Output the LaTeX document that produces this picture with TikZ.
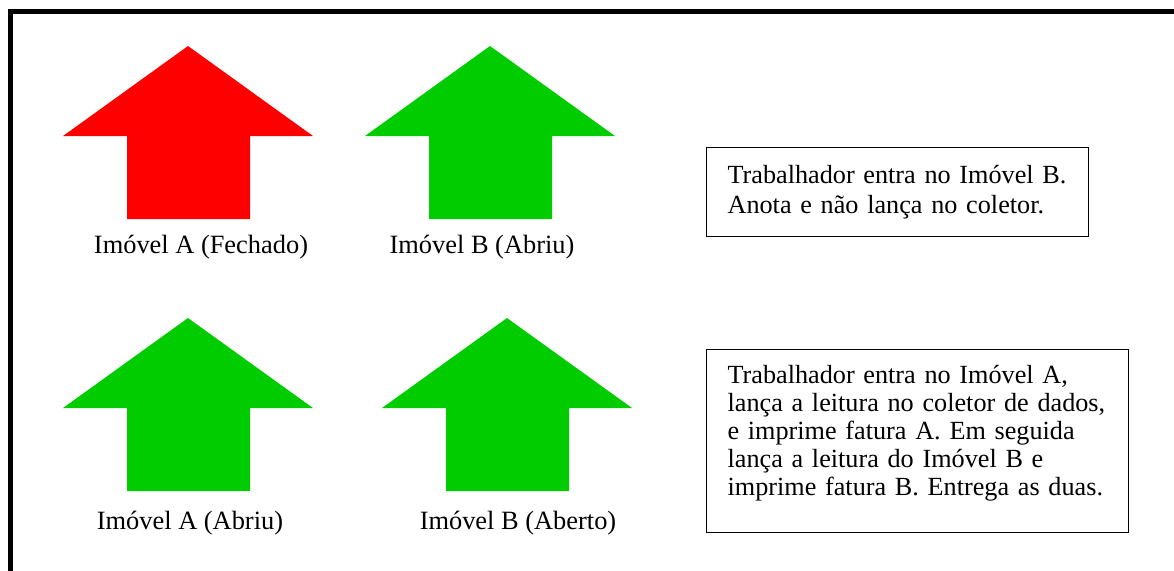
\documentclass[tikz,border=0pt]{standalone}
\usepackage{fontspec}
\setmainfont{Liberation Serif}
\usetikzlibrary{positioning}
\definecolor{vermelho}{RGB}{255,0,0}
\definecolor{verde}{RGB}{0,204,0}

\begin{document}
\begin{tikzpicture}[
  x=0.5pt, y=-0.5pt,
  seta/.pic={
    \fill[#1] (0,0) -- (125,90) -- (62,90) -- (62,173) -- (-61,173)
      -- (-61,90) -- (-125,90) -- cycle;
    \coordinate (-base) at (0,173);
  },
  rotulo/.style={font=\fontsize{13.2pt}{15pt}\selectfont, inner sep=0pt},
  caixa/.style={
    draw, line width=0.6pt, anchor=north west,
    inner xsep=10.5pt, inner ysep=8pt,
    align=left, font=\fontsize{13.1pt}{15pt}\selectfont
  }
]
  \useasboundingbox (0,0) rectangle (1174,570);

  % --- Moldura ---
  \draw[line width=2.5pt] (10.5,11.5) rectangle (1200,600);

  % --- Setas (imóveis) ---
  \pic (setaA1) at (188,46)  {seta=vermelho};
  \pic (setaB1) at (490,46)  {seta=verde};
  \pic (setaA2) at (188,318) {seta=verde};
  \pic (setaB2) at (507,318) {seta=verde};

  % --- Rótulos ---
  \node[rotulo, below=8pt of setaA1-base, xshift=6.5pt] (rotA1) {Imóvel A (Fechado)};
  \node[rotulo, below=8pt of setaB1-base, xshift=-4pt]  (rotB1) {Imóvel B (Abriu)};
  \node[rotulo, below=10pt of setaA2-base, xshift=1pt]  (rotA2) {Imóvel A (Abriu)};
  \node[rotulo, below=10pt of setaB2-base, xshift=5.5pt] (rotB2) {Imóvel B (Aberto)};

  % --- Caixas de texto ---
  \node[caixa, text width=170pt, minimum height=44.5pt] (caixa1) at (706,147)
    {Trabalhador entra no Imóvel B.\\
     Anota e não lança no coletor.};
  \node[caixa, text width=190pt,
        font=\fontsize{13.1pt}{14pt}\selectfont] (caixa2) at (706,349)
    {Trabalhador entra no Imóvel A,\\
     lança a leitura no coletor de dados,\\
     e imprime fatura A. Em seguida\\
     lança a leitura do Imóvel B e\\
     imprime fatura B. Entrega as duas.\rule[-10.5pt]{0pt}{10.5pt}};
\end{tikzpicture}
\end{document}
